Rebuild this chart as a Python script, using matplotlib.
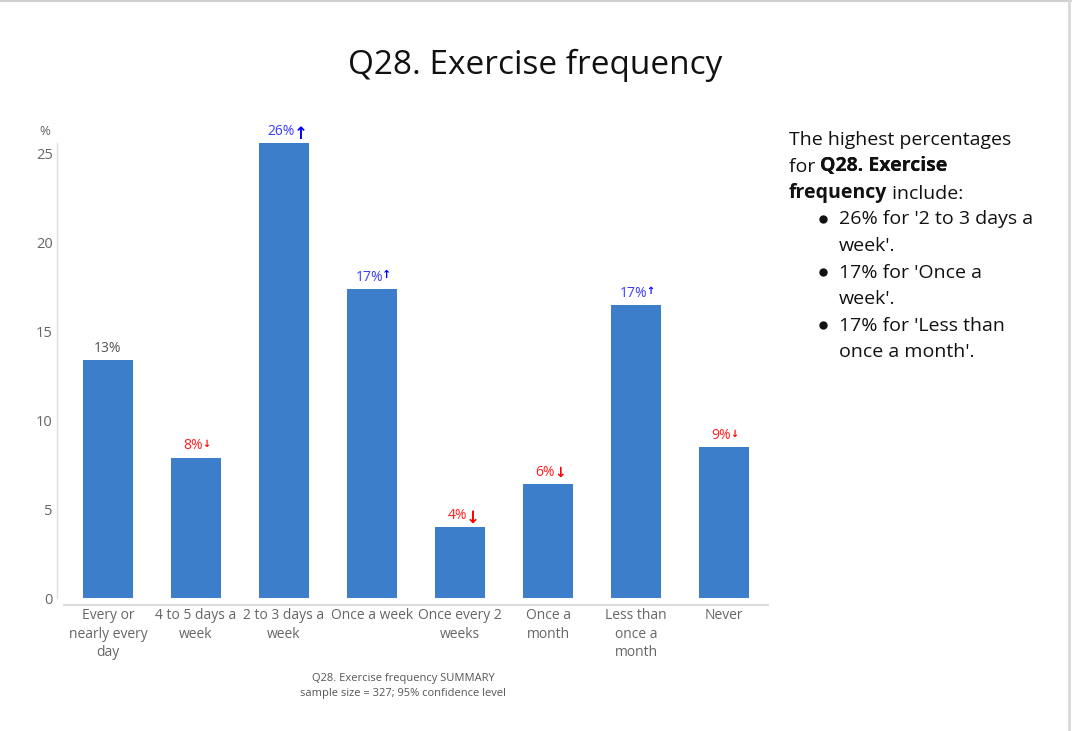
import matplotlib
matplotlib.use("Agg")
import matplotlib.pyplot as plt
from matplotlib.lines import Line2D

# ---------------------------------------------
# Data
# ---------------------------------------------
categories = ["Every or\nnearly every\nday", "4 to 5 days a\nweek", "2 to 3 days a\nweek",
              "Once a week", "Once every 2\nweeks", "Once a\nmonth", "Less than\nonce a\nmonth",
              "Never"]
values = [13.4, 7.9, 25.6, 17.4, 4.0, 6.4, 16.5, 8.5]
labels = ["13%", "8%", "26%", "17%", "4%", "6%", "17%", "9%"]
# significance: +1 higher, -1 lower, 0 none ; arrow size reflects strength
signif = [0, -1, 1, 1, -1, -1, 1, -1]
arrow_size = [0, 7, 12, 8, 12, 10, 7, 7]

summary_lines = ["26% for '2 to 3 days a", "week'.", "17% for 'Once a", "week'.",
                 "17% for 'Less than", "once a month'."]
bullet_starts = [True, False, True, False, True, False]

BAR_COLOR = "#3d7ecb"
GRAY = "#666666"
FONT = "Open Sans"

plt.rcParams["font.family"] = [FONT, "DejaVu Sans"]

W, H = 1072, 731
fig = plt.figure(figsize=(W / 100, H / 100), dpi=100)
ax = fig.add_axes([64 / W, 133 / H, (768 - 64) / W, (598 - 143) / H])

x = range(len(categories))
ax.bar(x, values, width=0.56, color=BAR_COLOR, zorder=2)
ax.set_xlim(-0.5, len(categories) - 0.5)
ax.set_ylim(0, 25.6)

# spines
for s in ["top", "right"]:
    ax.spines[s].set_visible(False)
ax.spines["left"].set_position(("outward", 5))
ax.spines["left"].set_color("#dddddd")
ax.spines["left"].set_linewidth(1)
ax.spines["bottom"].set_position(("outward", 5))
ax.spines["bottom"].set_color("#dddddd")
ax.spines["bottom"].set_linewidth(1.6)

ax.set_yticks([0, 5, 10, 15, 20, 25])
ax.tick_params(axis="y", length=0, pad=3, labelcolor=GRAY, labelsize=10.5)
ax.set_xticks(list(x))
ax.set_xticklabels(categories, linespacing=1.35)
ax.tick_params(axis="x", length=0, pad=2, labelcolor=GRAY, labelsize=10)

ax.text(-0.027, 1.012, "%", transform=ax.transAxes, ha="center", va="bottom",
        color=GRAY, fontsize=9.5)

# bar value labels with significance arrows
for i, (v, lab, sg, asz) in enumerate(zip(values, labels, signif, arrow_size)):
    if sg > 0:
        col, acol, glyph = "#3a3aff", "#0000ff", "\u2191"
    elif sg < 0:
        col, acol, glyph = "#ff2020", "#ff0000", "\u2193"
    else:
        col, acol, glyph = "#555555", None, ""
    t = ax.annotate(lab, xy=(i, v), xytext=(-2 if glyph else 0, 3), textcoords="offset points",
                    ha="center", va="bottom", color=col, fontsize=10,
                    annotation_clip=False)
    if glyph:
        ax.annotate(glyph, xy=(0.96, 0.95), xycoords=t, ha="left", va="top",
                    color=acol, fontsize=asz, fontweight="bold",
                    family="DejaVu Sans")

# title
fig.text(535 / W, 1 - 65 / H, "Q28. Exercise frequency", ha="center", va="center",
         fontsize=24, color="#111111")

# footer
fig.text(403 / W, 1 - 686 / H, "Q28. Exercise frequency SUMMARY\nsample size = 327; 95% confidence level",
         ha="center", va="center", fontsize=8, color="#555555", linespacing=1.45)

# right-hand summary text
fs = 14
tx = 789 / W
lh = 26.5
y0 = 1 - 145 / H
fig.text(tx, y0, "The highest percentages", fontsize=fs, va="baseline", color="#111111")
t1 = fig.text(tx, y0 - lh / H, "for ", fontsize=fs, va="baseline", color="#111111")
fig.add_artist(plt.annotate("Q28. Exercise", xy=(1, 0), xycoords=t1, va="bottom", ha="left",
                            fontsize=fs, fontweight="bold", color="#111111"))
t2 = fig.text(tx, y0 - 2 * lh / H, "frequency", fontsize=fs, fontweight="bold",
              va="baseline", color="#111111")
plt.annotate(" include:", xy=(1, 0), xycoords=t2, va="bottom", ha="left",
             fontsize=fs, color="#111111")
for k, (line, b) in enumerate(zip(summary_lines, bullet_starts)):
    yy = y0 - (3 + k) * lh / H
    if b:
        fig.add_artist(Line2D([823 / W], [yy + 5.5 / H], marker="o", markersize=5,
                              color="#111111", transform=fig.transFigure))
    fig.text(839 / W, yy, line, fontsize=fs, va="baseline", color="#111111")

# frame border (top and right)
fig.add_artist(Line2D([0, 1], [1 - 0.5 / H, 1 - 0.5 / H], color="#d0d0d0", lw=1.5,
                      transform=fig.transFigure))
fig.add_artist(Line2D([1 - 3 / W, 1 - 3 / W], [0, 1], color="#d8d8d8", lw=2,
                      transform=fig.transFigure))

fig.savefig("out.png", dpi=100)
